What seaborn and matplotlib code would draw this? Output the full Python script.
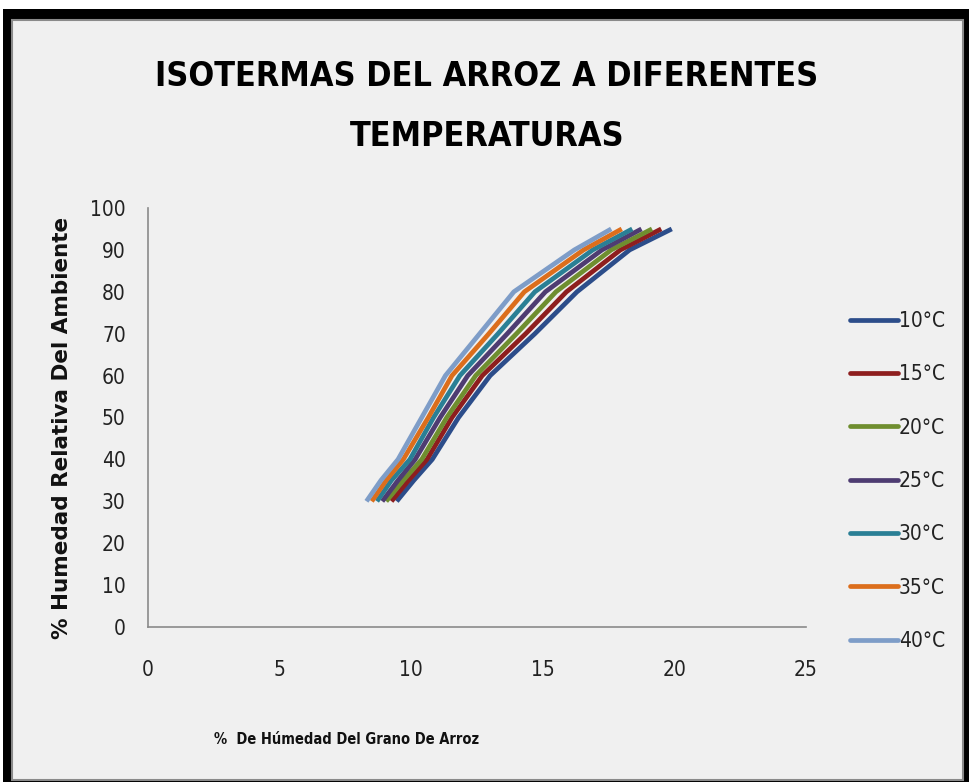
import numpy as np
import pandas as pd
import matplotlib
matplotlib.use("Agg")
import matplotlib.pyplot as plt
import seaborn as sns
from matplotlib.patches import Rectangle
from matplotlib import font_manager as fm

# ---- data ----
humedad_relativa = [30, 35, 40, 50, 60, 70, 80, 90, 95]
t10 = [9.45, 10.1, 10.8, 11.8, 13.0, 14.7, 16.3, 18.3, 19.9]
t15 = [9.25, 9.9, 10.6, 11.55, 12.7, 14.35, 15.9, 17.95, 19.5]
t20 = [9.05, 9.7, 10.4, 11.35, 12.45, 14.0, 15.5, 17.6, 19.15]
t25 = [8.9, 9.5, 10.15, 11.1, 12.15, 13.65, 15.1, 17.25, 18.75]
t30 = [8.7, 9.25, 9.95, 10.85, 11.85, 13.3, 14.7, 16.9, 18.4]
t35 = [8.5, 9.05, 9.7, 10.65, 11.55, 12.95, 14.3, 16.55, 18.0]
t40 = [8.3, 8.85, 9.5, 10.4, 11.3, 12.6, 13.9, 16.2, 17.6]
series_labels = ["10°C", "15°C", "20°C", "25°C", "30°C", "35°C", "40°C"]
series_values = [t10, t15, t20, t25, t30, t35, t40]
colors = ["#2C4D8A", "#8E1E1E", "#6F8E2F", "#4E3C72", "#2A7F95", "#DC6E1C", "#7E9DC8"]
x_ticks = [0, 5, 10, 15, 20, 25]
y_ticks = [0, 10, 20, 30, 40, 50, 60, 70, 80, 90, 100]

rows = []
for lab, vals in zip(series_labels, series_values):
    for order, (xv, yv) in enumerate(zip(vals, humedad_relativa)):
        rows.append({"serie": lab, "x": xv, "y": yv, "o": order})
df = pd.DataFrame(rows)

sns.set_theme(style="white")

cond_bold = None
cond_reg = None
for f in fm.fontManager.ttflist:
    if f.name == "DejaVu Sans" and "Condensed" in f.fname and "Oblique" not in f.fname:
        if "Bold" in f.fname:
            cond_bold = f.fname
        else:
            cond_reg = f.fname

def fp(size, bold=False):
    path = cond_bold if bold else cond_reg
    if path:
        return fm.FontProperties(fname=path, size=size)
    return fm.FontProperties(family="DejaVu Sans", size=size, weight="bold" if bold else "normal")

plt.rcParams["font.family"] = ["DejaVu Sans"]

W, H = 970, 782
fig = plt.figure(figsize=(W / 100, H / 100), dpi=100)
fig.patch.set_facecolor("white")

def px_rect(x0, y0, x1, y1, **kw):
    fig.patches.append(Rectangle((x0 / W, 1 - y1 / H), (x1 - x0) / W, (y1 - y0) / H,
                                 transform=fig.transFigure, figure=fig, **kw))

px_rect(3, 9, 970, 782, facecolor="black", edgecolor="none", zorder=-10)
px_rect(12, 20, 963, 780, facecolor="#f0f0f0", edgecolor="#8a8a8a", linewidth=1.5, zorder=-9)

ax = fig.add_axes([148 / W, 1 - 627 / H, (806 - 148) / W, (627 - 208) / H])
ax.set_zorder(5)
ax.patch.set_alpha(0)

sns.lineplot(data=df, x="x", y="y", hue="serie", palette=colors, sort=False,
             estimator=None, units="serie", linewidth=3.4, ax=ax, legend=False)
for ln in ax.get_lines():
    ln.set_solid_joinstyle("round")
    ln.set_solid_capstyle("butt")

ax.set_xlim(0, 25)
ax.set_ylim(0, 100)
ax.set_xticks(x_ticks)
ax.set_yticks(y_ticks)
ax.set_xticklabels([str(v) for v in x_ticks])
ax.set_yticklabels([str(v) for v in y_ticks])
ax.tick_params(axis="x", length=0, pad=24, colors="#222222")
ax.tick_params(axis="y", length=0, pad=16, colors="#222222")
for lab in ax.get_xticklabels() + ax.get_yticklabels():
    lab.set_fontproperties(fp(15))
for s in ["top", "right"]:
    ax.spines[s].set_visible(False)
for s in ["left", "bottom"]:
    ax.spines[s].set_color("#8a8a8a")
    ax.spines[s].set_linewidth(1.2)
ax.grid(False)
ax.set_xlabel("")
ax.set_ylabel("")

fig.text(347 / W, 1 - 740 / H, "%  De Húmedad Del Grano De Arroz", ha="center", va="center",
         fontproperties=fp(10.5, bold=True), color="#111111")
fig.text(62 / W, 1 - 428 / H, "% Humedad Relativa Del Ambiente", ha="center", va="center",
         rotation=90, fontsize=15.5, fontweight="bold", color="#111111", family=["DejaVu Sans"])
fig.text(487 / W, 1 - 77 / H, "ISOTERMAS DEL ARROZ A DIFERENTES", ha="center", va="center",
         fontproperties=fp(24.5, bold=True), color="black")
fig.text(487 / W, 1 - 137 / H, "TEMPERATURAS", ha="center", va="center",
         fontproperties=fp(24.5, bold=True), color="black")

handles = [plt.Line2D([], [], color=c, linewidth=3.4) for c in colors]
leg = fig.legend(handles, series_labels, loc="upper left",
                 bbox_to_anchor=(850 / W, 1 - 311 / H), frameon=False,
                 prop=fp(15), handlelength=2.3, handletextpad=0.05,
                 labelspacing=1.6, borderaxespad=0, borderpad=0)
for t in leg.get_texts():
    t.set_color("#222222")

fig.savefig("out.png", dpi=100, facecolor=fig.get_facecolor())
